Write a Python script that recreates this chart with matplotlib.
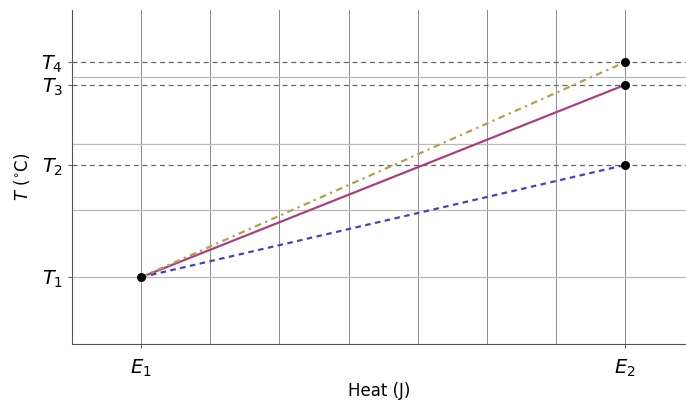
import numpy as np
import matplotlib.pyplot as plt

# heat (x) and temperature (y) levels
E1, E2 = 1.0, 8.0
T1 = 1.0
T_end = [2.68, 3.88, 4.22]          # T2, T3, T4
x_ticks = [E1, E2]
x_labels = ['$E_1$', '$E_2$']
y_ticks = [T1] + T_end
y_labels = ['$T_1$', '$T_2$', '$T_3$', '$T_4$']
grid_x = [1, 2, 3, 4, 5, 6, 7, 8]
grid_y = [1, 2, 3, 4]

line_colors = ['#4a43b0', '#a4437f', '#b0a050']
line_styles = [(0, (2.5, 2)), '-', (0, (3, 2, 1, 2))]

fig = plt.figure(figsize=(6.86, 4.0), dpi=100)
ax = fig.add_axes([0.105, 0.14, 0.895, 0.835])

for g in grid_x:
    ax.axvline(g, color='#8c8c8c', lw=0.7, zorder=0)
for g in grid_y:
    ax.axhline(g, color='#bbbbbb', lw=0.9, zorder=0)

for t in T_end:
    ax.axhline(t, color='#666666', lw=0.9, ls=(0, (4, 3)), zorder=1)

for t, c, s in zip(T_end, line_colors, line_styles):
    ax.plot([E1, E2], [T1, t], color=c, ls=s, lw=1.6, zorder=2)

ax.scatter([E1] + [E2] * 3, [T1] + T_end, color='black', s=30, zorder=3)

ax.set_xlim(0, 8.88)
ax.set_ylim(0, 5)
ax.set_xticks(x_ticks)
ax.set_xticklabels(x_labels, fontsize=14)
ax.set_yticks(y_ticks)
ax.set_yticklabels(y_labels, fontsize=14)
ax.tick_params(length=3, color='#666666')
ax.tick_params(axis='x', pad=7)
ax.set_xlabel('Heat (J)', fontsize=12, labelpad=2)
ax.set_ylabel(r'$T$ ($^{\circ}$C)', fontsize=12, labelpad=7)

for side in ['top', 'right']:
    ax.spines[side].set_visible(False)
for side in ['left', 'bottom']:
    ax.spines[side].set_color('#555555')

plt.savefig('out.png', dpi=100)
